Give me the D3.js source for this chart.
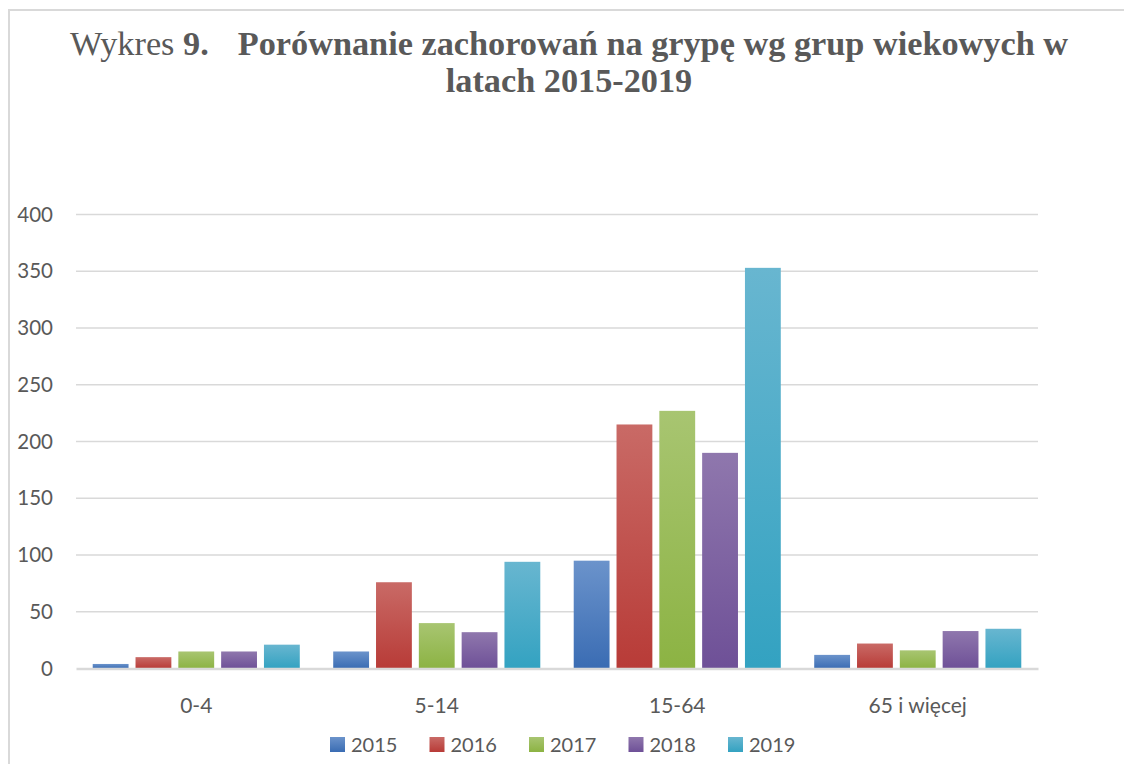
<!DOCTYPE html>
<html>
<head>
<meta charset="utf-8">
<script src="https://cdn.jsdelivr.net/npm/d3@7"></script>
<style>
  body { margin: 0; background: #fff; }
  svg { display: block; }
</style>
</head>
<body>
<svg id="chart"></svg>
<script>
// chart data
var categories = ["0-4", "5-14", "15-64", "65 i więcej"];
var years = ["2015", "2016", "2017", "2018", "2019"];
var values2015 = [4, 15, 95, 12];
var values2016 = [10, 76, 215, 22];
var values2017 = [15, 40, 227, 16];
var values2018 = [15, 32, 190, 33];
var values2019 = [21, 94, 353, 35];
var yTicks = [0, 50, 100, 150, 200, 250, 300, 350, 400];

var seriesValues = [values2015, values2016, values2017, values2018, values2019];
// top / bottom colours of the bar gradients
var colTop = ["#6b93cb", "#c96a66", "#a8c571", "#8f77ad", "#68b6d0"];
var colBot = ["#3a6cb3", "#b83b37", "#8cb343", "#6e5097", "#33a2c1"];

var W = 1124, H = 764;
var margin = { top: 214.5, left: 76, right: W - 1038, bottom: H - 668.5 };
var width = W - margin.left - margin.right,
    height = H - margin.top - margin.bottom;

var svg = d3.select("#chart").attr("width", W).attr("height", H);

// frame
svg.append("path")
  .attr("d", "M9," + H + "V10H" + W)
  .attr("fill", "none")
  .attr("stroke", "#d9d9d9")
  .attr("stroke-width", 2);

// gradients
var defs = svg.append("defs");
years.forEach(function(y, i) {
  var g = defs.append("linearGradient")
    .attr("id", "grad" + i)
    .attr("x1", 0).attr("y1", 0).attr("x2", 0).attr("y2", 1);
  g.append("stop").attr("offset", "0%").attr("stop-color", colTop[i]);
  g.append("stop").attr("offset", "100%").attr("stop-color", colBot[i]);
});

// title
var title = svg.append("text")
  .attr("text-anchor", "middle")
  .attr("fill", "#595959")
  .style("font-family", "'Liberation Serif', 'DejaVu Serif', serif");
var t1 = title.append("tspan").attr("x", 569).attr("y", 55);
t1.append("tspan").text("Wykres ");
t1.append("tspan").attr("font-weight", "bold").text("9.");
t1.append("tspan").attr("font-weight", "bold").attr("dx", 29)
  .text("Porównanie zachorowań na grypę wg grup wiekowych w");
title.append("tspan").attr("x", 569).attr("y", 92)
  .attr("font-weight", "bold").text("latach 2015-2019");

// fit first title line to its width in the picture (~998px)
var fs = 30;
for (var k = 0; k < 3; k++) {
  title.style("font-size", fs + "px");
  var bw = t1.node().getBBox().width;
  fs = fs * (998 - 29) / (bw - 29);
}
title.style("font-size", fs.toFixed(2) + "px");

var g = svg.append("g")
  .attr("transform", "translate(" + margin.left + "," + margin.top + ")");

// scales
var x0 = d3.scaleBand()
  .domain(categories)
  .range([0, width])
  .paddingInner(0.139)
  .paddingOuter(0.0695);

var x1 = d3.scaleBand()
  .domain(years)
  .range([0, x0.bandwidth()])
  .paddingInner(0.163);

var y = d3.scaleLinear()
  .domain([0, 400])
  .range([height, 0]);

// gridlines
g.append("g")
  .selectAll("line")
  .data(yTicks.filter(function(d) { return d > 0; }))
  .enter()
  .append("line")
  .attr("x1", 0).attr("x2", width)
  .attr("y1", function(d) { return y(d); })
  .attr("y2", function(d) { return y(d); })
  .attr("stroke", "#d9d9d9")
  .attr("stroke-width", 1.5);

// y axis labels
var yAxis = g.append("g")
  .call(d3.axisLeft(y).tickValues(yTicks).tickSize(0).tickPadding(23));
yAxis.select(".domain").remove();
yAxis.selectAll("text")
  .attr("fill", "#595959")
  .style("font-family", "Lato, 'Open Sans', sans-serif")
  .style("font-size", "20.5px");

// bars
var groups = g.selectAll(".group")
  .data(categories)
  .enter()
  .append("g")
  .attr("class", "group")
  .attr("transform", function(d) { return "translate(" + x0(d) + ",0)"; });

groups.selectAll("rect")
  .data(function(d, ci) {
    return years.map(function(yr, si) {
      return { year: yr, idx: si, value: seriesValues[si][ci] };
    });
  })
  .enter()
  .append("rect")
  .attr("x", function(d) { return x1(d.year); })
  .attr("y", function(d) { return y(d.value); })
  .attr("width", x1.bandwidth())
  .attr("height", function(d) { return height - y(d.value); })
  .attr("fill", function(d) { return "url(#grad" + d.idx + ")"; });

// x axis
var xAxis = g.append("g")
  .attr("transform", "translate(0," + height + ")")
  .call(d3.axisBottom(x0).tickSize(0).tickPadding(30));
xAxis.select(".domain")
  .attr("stroke", "#d9d9d9")
  .attr("stroke-width", 2.5);
xAxis.selectAll("text")
  .attr("fill", "#595959")
  .style("font-family", "Lato, 'Open Sans', sans-serif")
  .style("font-size", "21px");

// legend
var legend = svg.append("g")
  .selectAll("g")
  .data(years)
  .enter()
  .append("g")
  .attr("transform", function(d, i) { return "translate(" + (330 + i * 99.5) + ",737)"; });

legend.append("rect")
  .attr("width", 15).attr("height", 15)
  .attr("fill", function(d, i) { return "url(#grad" + i + ")"; });

legend.append("text")
  .attr("x", 21)
  .attr("y", 14.5)
  .attr("fill", "#595959")
  .style("font-family", "Lato, 'Open Sans', sans-serif")
  .style("font-size", "20px")
  .text(function(d) { return d; });
</script>
</body>
</html>
